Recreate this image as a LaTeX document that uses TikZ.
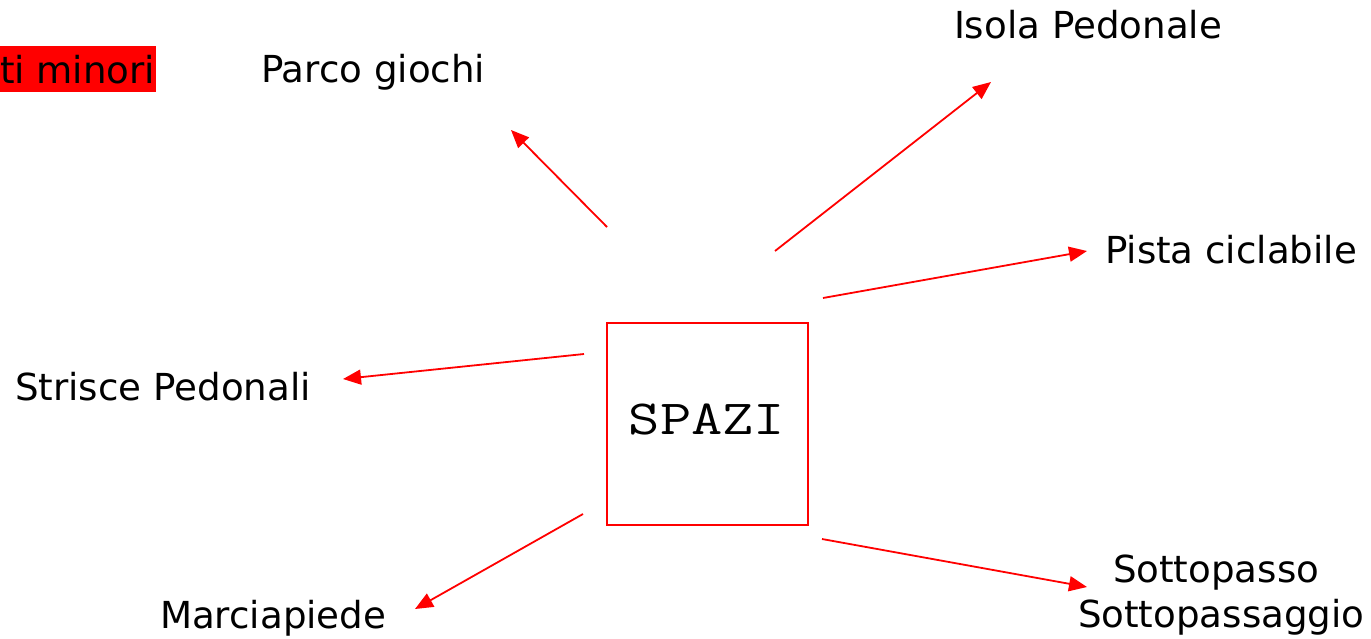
\documentclass[tikz,border=0pt]{standalone}
\usepackage{fontspec}
\setmainfont{DejaVu Sans}
\usetikzlibrary{arrows.meta}
\begin{document}
\begin{tikzpicture}[x=1pt,y=-1pt,
  lbl/.style={inner sep=0pt,outer sep=0pt,anchor=base west,font=\fontsize{37.2}{40}\selectfont},
  conn/.style={draw=red,line width=1.8pt,-{Triangle[length=18pt,width=15pt]}},
  spazibox/.style={draw=red,line width=1.8pt,minimum width=201pt,minimum height=202pt,inner sep=0pt}]
\useasboundingbox (0,0) rectangle (1371,638);
% clipped red label
\fill[red] (0,46) rectangle (156,92);
\node[lbl] (minori) at (0,83) {ti minori};
% center box
\node[spazibox] (box) at (707.5,424) {};
\node[inner sep=0pt,anchor=base,xscale=1.24,font=\ttfamily\fontsize{49}{52}\selectfont] (spazi) at (707,434) {SPAZI};
% labels
\node[lbl] (parco) at (261,82) {Parco giochi};
\node[lbl] (isola) at (954,38) {Isola Pedonale};
\node[lbl] (pista) at (1105,263) {Pista ciclabile};
\node[lbl] (strisce) at (15,400) {Strisce Pedonali};
\node[lbl] (marcia) at (160,628) {Marciapiede};
\node[lbl] (sotto1) at (1113,582) {Sottopasso};
\node[lbl] (sotto2) at (1078,627) {Sottopassaggio};
% arrow endpoints
\coordinate (s1) at (607,227); \coordinate (t1) at (511,130);
\coordinate (s2) at (775,251); \coordinate (t2) at (991,82);
\coordinate (s3) at (823,298); \coordinate (t3) at (1087,251);
\coordinate (s4) at (584,354); \coordinate (t4) at (343,379);
\coordinate (s5) at (583,514); \coordinate (t5) at (415,609);
\coordinate (s6) at (822,539); \coordinate (t6) at (1087,587);
\draw[conn] (s1) -- (t1);
\draw[conn] (s2) -- (t2);
\draw[conn] (s3) -- (t3);
\draw[conn] (s4) -- (t4);
\draw[conn] (s5) -- (t5);
\draw[conn] (s6) -- (t6);
\end{tikzpicture}
\end{document}
